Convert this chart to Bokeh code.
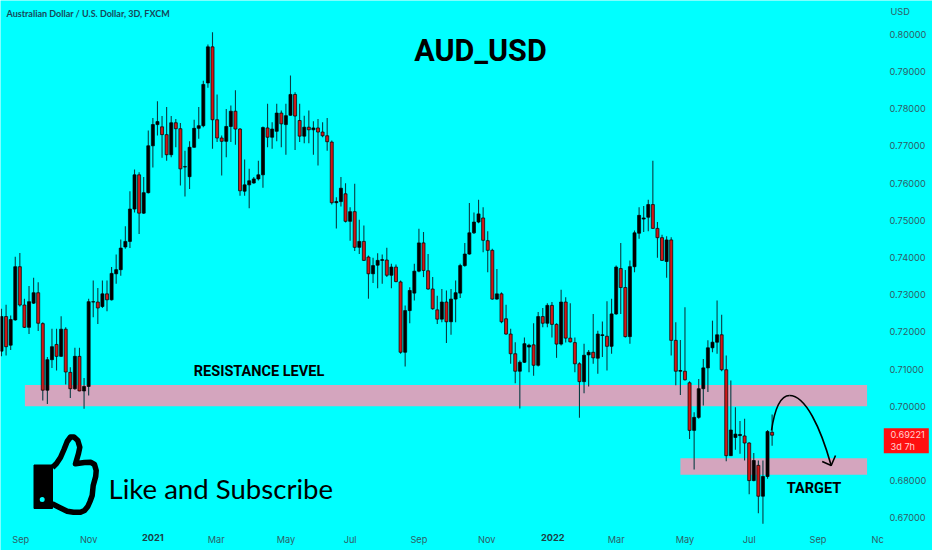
from bokeh.plotting import figure
from bokeh.embed import file_html
from bokeh.resources import INLINE
from bokeh.models import FixedTicker, Label, ColumnDataSource, LinearAxis

# Candles, prices in pips (1/10000 USD)
opens = [7148,7241,7164,7232,7375,7272,7212,7277,7305,7222,7043,7125,7166,7134,7207,7091,7047,7134,7041,7053,
         7280,7280,7268,7302,7286,7356,7367,7428,7443,7530,7622,7519,7574,7700,7757,7751,7730,7676,7762,7746,
         7643,7617,7696,7747,7754,7869,7966,7770,7721,7712,7752,7793,7745,7578,7595,7600,7611,7622,7748,7723,
         7739,7788,7757,7782,7838,7768,7726,7750,7743,7748,7737,7727,7710,7547,7550,7571,7497,7523,7427,7443,
         7401,7356,7379,7392,7393,7352,7374,7334,7145,7257,7304,7363,7439,7364,7315,7259,7234,7280,7227,7288,
         7304,7378,7409,7466,7495,7506,7445,7419,7288,7302,7235,7194,7141,7094,7118,7159,7165,7110,7241,7223,
         7271,7220,7167,7280,7183,7171,7114,7066,7138,7145,7129,7190,7188,7161,7248,7370,7319,7187,7375,7465,
         7503,7508,7542,7478,7453,7389,7447,7177,7094,7094,7063,6935,6970,7047,7103,7157,7172,7192,7098,6867,
         6916,6921,6920,6901,6800,6841,6758,6811,6930]
closes = [7241,7160,7233,7375,7272,7212,7281,7305,7223,7043,7125,7160,7134,7207,7092,7047,7134,7041,7053,7281,
          7281,7264,7302,7286,7357,7367,7425,7443,7530,7622,7519,7574,7700,7757,7765,7730,7676,7762,7746,7638,
          7644,7696,7747,7754,7865,7966,7770,7721,7712,7752,7793,7745,7579,7595,7606,7611,7622,7749,7723,7745,
          7788,7759,7781,7838,7780,7726,7750,7743,7748,7737,7727,7711,7547,7550,7586,7497,7523,7427,7443,7392,
          7356,7378,7392,7394,7352,7374,7335,7145,7257,7311,7363,7439,7365,7315,7262,7234,7280,7227,7288,7305,
          7378,7409,7466,7495,7517,7446,7419,7288,7302,7227,7194,7141,7094,7118,7168,7164,7110,7241,7223,7271,
          7220,7167,7280,7183,7173,7114,7066,7137,7145,7130,7194,7192,7161,7248,7374,7319,7187,7375,7466,7513,
          7506,7542,7478,7453,7392,7447,7177,7094,7096,7071,6935,6970,7047,7103,7157,7172,7192,7098,6867,6936,
          6925,6924,6901,6800,6854,6758,6811,6932,6922]
highs = [7262,7273,7244,7402,7412,7289,7323,7345,7333,7226,7132,7208,7208,7242,7212,7105,7157,7157,7076,7289,
         7338,7318,7338,7338,7374,7408,7448,7484,7578,7636,7629,7616,7741,7775,7820,7780,7804,7780,7772,7761,
         7687,7712,7770,7804,7875,7972,8005,7838,7728,7799,7808,7849,7748,7663,7638,7616,7660,7752,7813,7763,
         7813,7795,7813,7889,7844,7813,7781,7795,7766,7772,7763,7775,7714,7562,7616,7599,7535,7598,7501,7486,
         7405,7399,7411,7408,7426,7383,7381,7338,7271,7320,7383,7477,7468,7409,7347,7297,7315,7311,7315,7338,
         7383,7439,7546,7521,7555,7535,7470,7423,7369,7306,7273,7208,7172,7123,7185,7168,7223,7253,7264,7277,
         7280,7223,7313,7293,7277,7185,7118,7168,7151,7248,7203,7228,7282,7289,7378,7439,7366,7392,7472,7535,
         7538,7555,7660,7495,7461,7457,7454,7226,7178,7266,7067,6984,7073,7127,7177,7230,7284,7246,7136,7069,
         6997,6960,6966,6903,6874,6854,6854,6936,6978]
lows = [7134,7136,7151,7230,7268,7210,7194,7275,7202,7015,7006,7103,7096,7132,7058,7022,7044,7040,6993,7029,
        7239,7221,7264,7255,7284,7329,7351,7423,7425,7521,7463,7517,7572,7642,7728,7668,7660,7669,7696,7593,
        7564,7584,7695,7719,7750,7856,7692,7710,7620,7669,7710,7703,7566,7566,7532,7598,7607,7587,7696,7692,
        7712,7696,7676,7781,7689,7710,7707,7707,7676,7647,7723,7687,7542,7478,7537,7494,7445,7417,7409,7390,
        7289,7331,7317,7329,7347,7317,7333,7141,7107,7223,7284,7360,7347,7313,7259,7221,7226,7170,7192,7226,
        7291,7375,7407,7463,7492,7414,7360,7286,7286,7223,7192,7114,7062,6994,7116,7091,7082,7107,7212,7212,
        7185,7130,7163,7171,7171,7091,6969,7035,7053,7114,7087,7132,7096,7141,7246,7248,7185,7168,7360,7450,
        7468,7470,7477,7399,7390,7345,7136,7056,7030,7069,6912,6830,6966,7002,7038,7145,7141,7094,6852,6866,
        6883,6872,6854,6763,6798,6712,6684,6805,6894]

# Horizontal zones (price, first/last candle)
zone_resistance = [0.7000, 0.7057, 5.1, 188.7]
zone_target = [0.6816, 0.6860, 148.0, 188.7]

y_ticks = [0.67,0.68,0.70,0.71,0.72,0.73,0.74,0.75,0.76,0.77,0.78,0.79,0.80]
x_ticks = [4.2,19,46.8,62,76,91,105.8,134,149,163,178,191]
x_labels = ["Sep","Nov","Mar","May","Jul","Sep","Nov","Mar","May","Jul","Sep","Nc"]
year_ticks = [33,120.2]
year_labels = ["2021","2022"]

W, H = 932, 550
PX_STEP = 4.587
PX_PER_UNIT = 3720.0


def dx(px):
    return (px - 1) / PX_STEP


def dy(py):
    return 0.70 + (405.7 - py) / PX_PER_UNIT


AXIS_COL = "#2f5d66"
CYAN = "#00FFFF"

p = figure(width=W, height=H, output_backend="svg", toolbar_location=None,
           x_range=(dx(0), dx(W)), y_range=(dy(H), dy(0)),
           x_axis_location="below", y_axis_location="right",
           background_fill_color=CYAN, border_fill_color=CYAN,
           min_border_left=0, min_border_top=0, min_border_right=0, min_border_bottom=0)
p.outline_line_color = None
p.grid.visible = False


def style_axis(ax):
    ax.axis_line_color = None
    ax.major_tick_line_color = None
    ax.minor_tick_line_color = None
    ax.major_tick_out = 0
    ax.major_tick_in = 0
    ax.major_label_text_color = AXIS_COL
    ax.major_label_text_font = "Inter"
    ax.major_label_text_font_size = "9.2px"


style_axis(p.xaxis[0])
style_axis(p.yaxis[0])
p.yaxis[0].fixed_location = dx(880)
p.yaxis[0].ticker = FixedTicker(ticks=y_ticks)
p.yaxis[0].major_label_overrides = {t: f"{t:.5f}" for t in y_ticks}
p.yaxis[0].major_label_standoff = 9
p.xaxis[0].fixed_location = dy(528)
p.xaxis[0].ticker = FixedTicker(ticks=x_ticks)
p.xaxis[0].major_label_overrides = dict(zip(x_ticks, x_labels))
p.xaxis[0].major_label_standoff = 5

year_axis = LinearAxis(ticker=FixedTicker(ticks=year_ticks), fixed_location=dy(528),
                       major_label_overrides=dict(zip(year_ticks, year_labels)))
style_axis(year_axis)
year_axis.major_label_text_font_style = "bold"
year_axis.major_label_text_color = "#1d3f46"
year_axis.major_label_standoff = 5
p.add_layout(year_axis, "below")

for z in (zone_resistance, zone_target):
    p.quad(left=z[2], right=z[3], bottom=z[0], top=z[1], fill_color="#D4A5BE", line_color=None)

idx = list(range(len(opens)))
o = [v / 1e4 for v in opens]
c = [v / 1e4 for v in closes]
hi = [v / 1e4 for v in highs]
lo = [v / 1e4 for v in lows]
cols = ["#D01818" if cv < ov else "#000000" for ov, cv in zip(o, c)]
src = ColumnDataSource(dict(x=idx, o=o, c=c, hi=hi, lo=lo, col=cols))
p.segment("x", "lo", "x", "hi", source=src, line_color="#083c42", line_width=1.1)
p.vbar("x", width=0.66, bottom="o", top="c", source=src, fill_color="col", line_color="#000000", line_width=0.7)

# Annotation arrow
p.bezier(x0=[dx(771), dx(789)], y0=[dy(430), dy(395)], x1=[dx(789), dx(830.7)], y1=[dy(395), dy(465)],
         cx0=[dx(775), dx(805)], cy0=[dy(403), dy(395)], cx1=[dx(782), dx(820)], cy1=[dy(395), dy(427)],
         line_color="#000000", line_width=1.6)
p.line([dx(821.7), dx(830.7), dx(835)], [dy(461), dy(465), dy(455)], line_color="#000000", line_width=1.6)

# Thumb icon
thumb = [(52, 467), (56, 463), (60, 457), (63.5, 449), (66.7, 441), (70, 436.5), (73.5, 436.5), (77.3, 440),
         (79.3, 446.7), (78, 453), (75, 463.3), (84, 462), (90, 461.7), (94, 464), (95.7, 470), (95.2, 476),
         (92.7, 485), (91.7, 495), (89.5, 501), (87.3, 506), (84, 510), (80, 511.7), (73, 511.8),
         (66.7, 510.7), (58, 506.5), (51.7, 503.3)]
p.line([dx(a) for a, _ in thumb], [dy(b) for _, b in thumb], line_color="#000000", line_width=5.5,
       line_join="round")
p.quad(left=dx(33.5), right=dx(52), bottom=dy(508), top=dy(464.5), fill_color="#000000", line_color="#000000",
       line_width=1)
p.scatter([dx(41.7)], [dy(499)], size=5, fill_color=CYAN, line_color=None)

# Last price tag
p.quad(left=dx(883.3), right=dx(928.3), bottom=dy(452.7), top=dy(427.7), fill_color="#FF1010", line_color=None)


def label(text, px, py, size, color="#000000", style="normal", font="Roboto", align="left"):
    p.add_layout(Label(x=dx(px), y=dy(py), text=text, text_font=font, text_font_size=size, text_color=color,
                       text_font_style=style, text_align=align, text_baseline="middle"))


label("AUD_USD", 480, 50, "30.5px", style="bold", align="center")
label("RESISTANCE LEVEL", 258.5, 371, "14.5px", style="bold", align="center")
label("TARGET", 813.5, 488, "14.5px", style="bold", align="center")
label("Like and Subscribe", 108, 488, "27.6px", font="Lato")
label("Australian Dollar / U.S. Dollar, 3D, FXCM", 6, 13, "9px", color="#17485a", style="bold", font="Lato")
label("USD", 890, 11, "9.2px", color=AXIS_COL, font="Inter")
label("0.69221", 890, 434, "9.2px", color="#FFD0D0", font="Inter")
label("3d 7h", 890, 446, "9.2px", color="#FFD0D0", font="Inter")

open("out.html", "w").write(file_html(p, INLINE))
